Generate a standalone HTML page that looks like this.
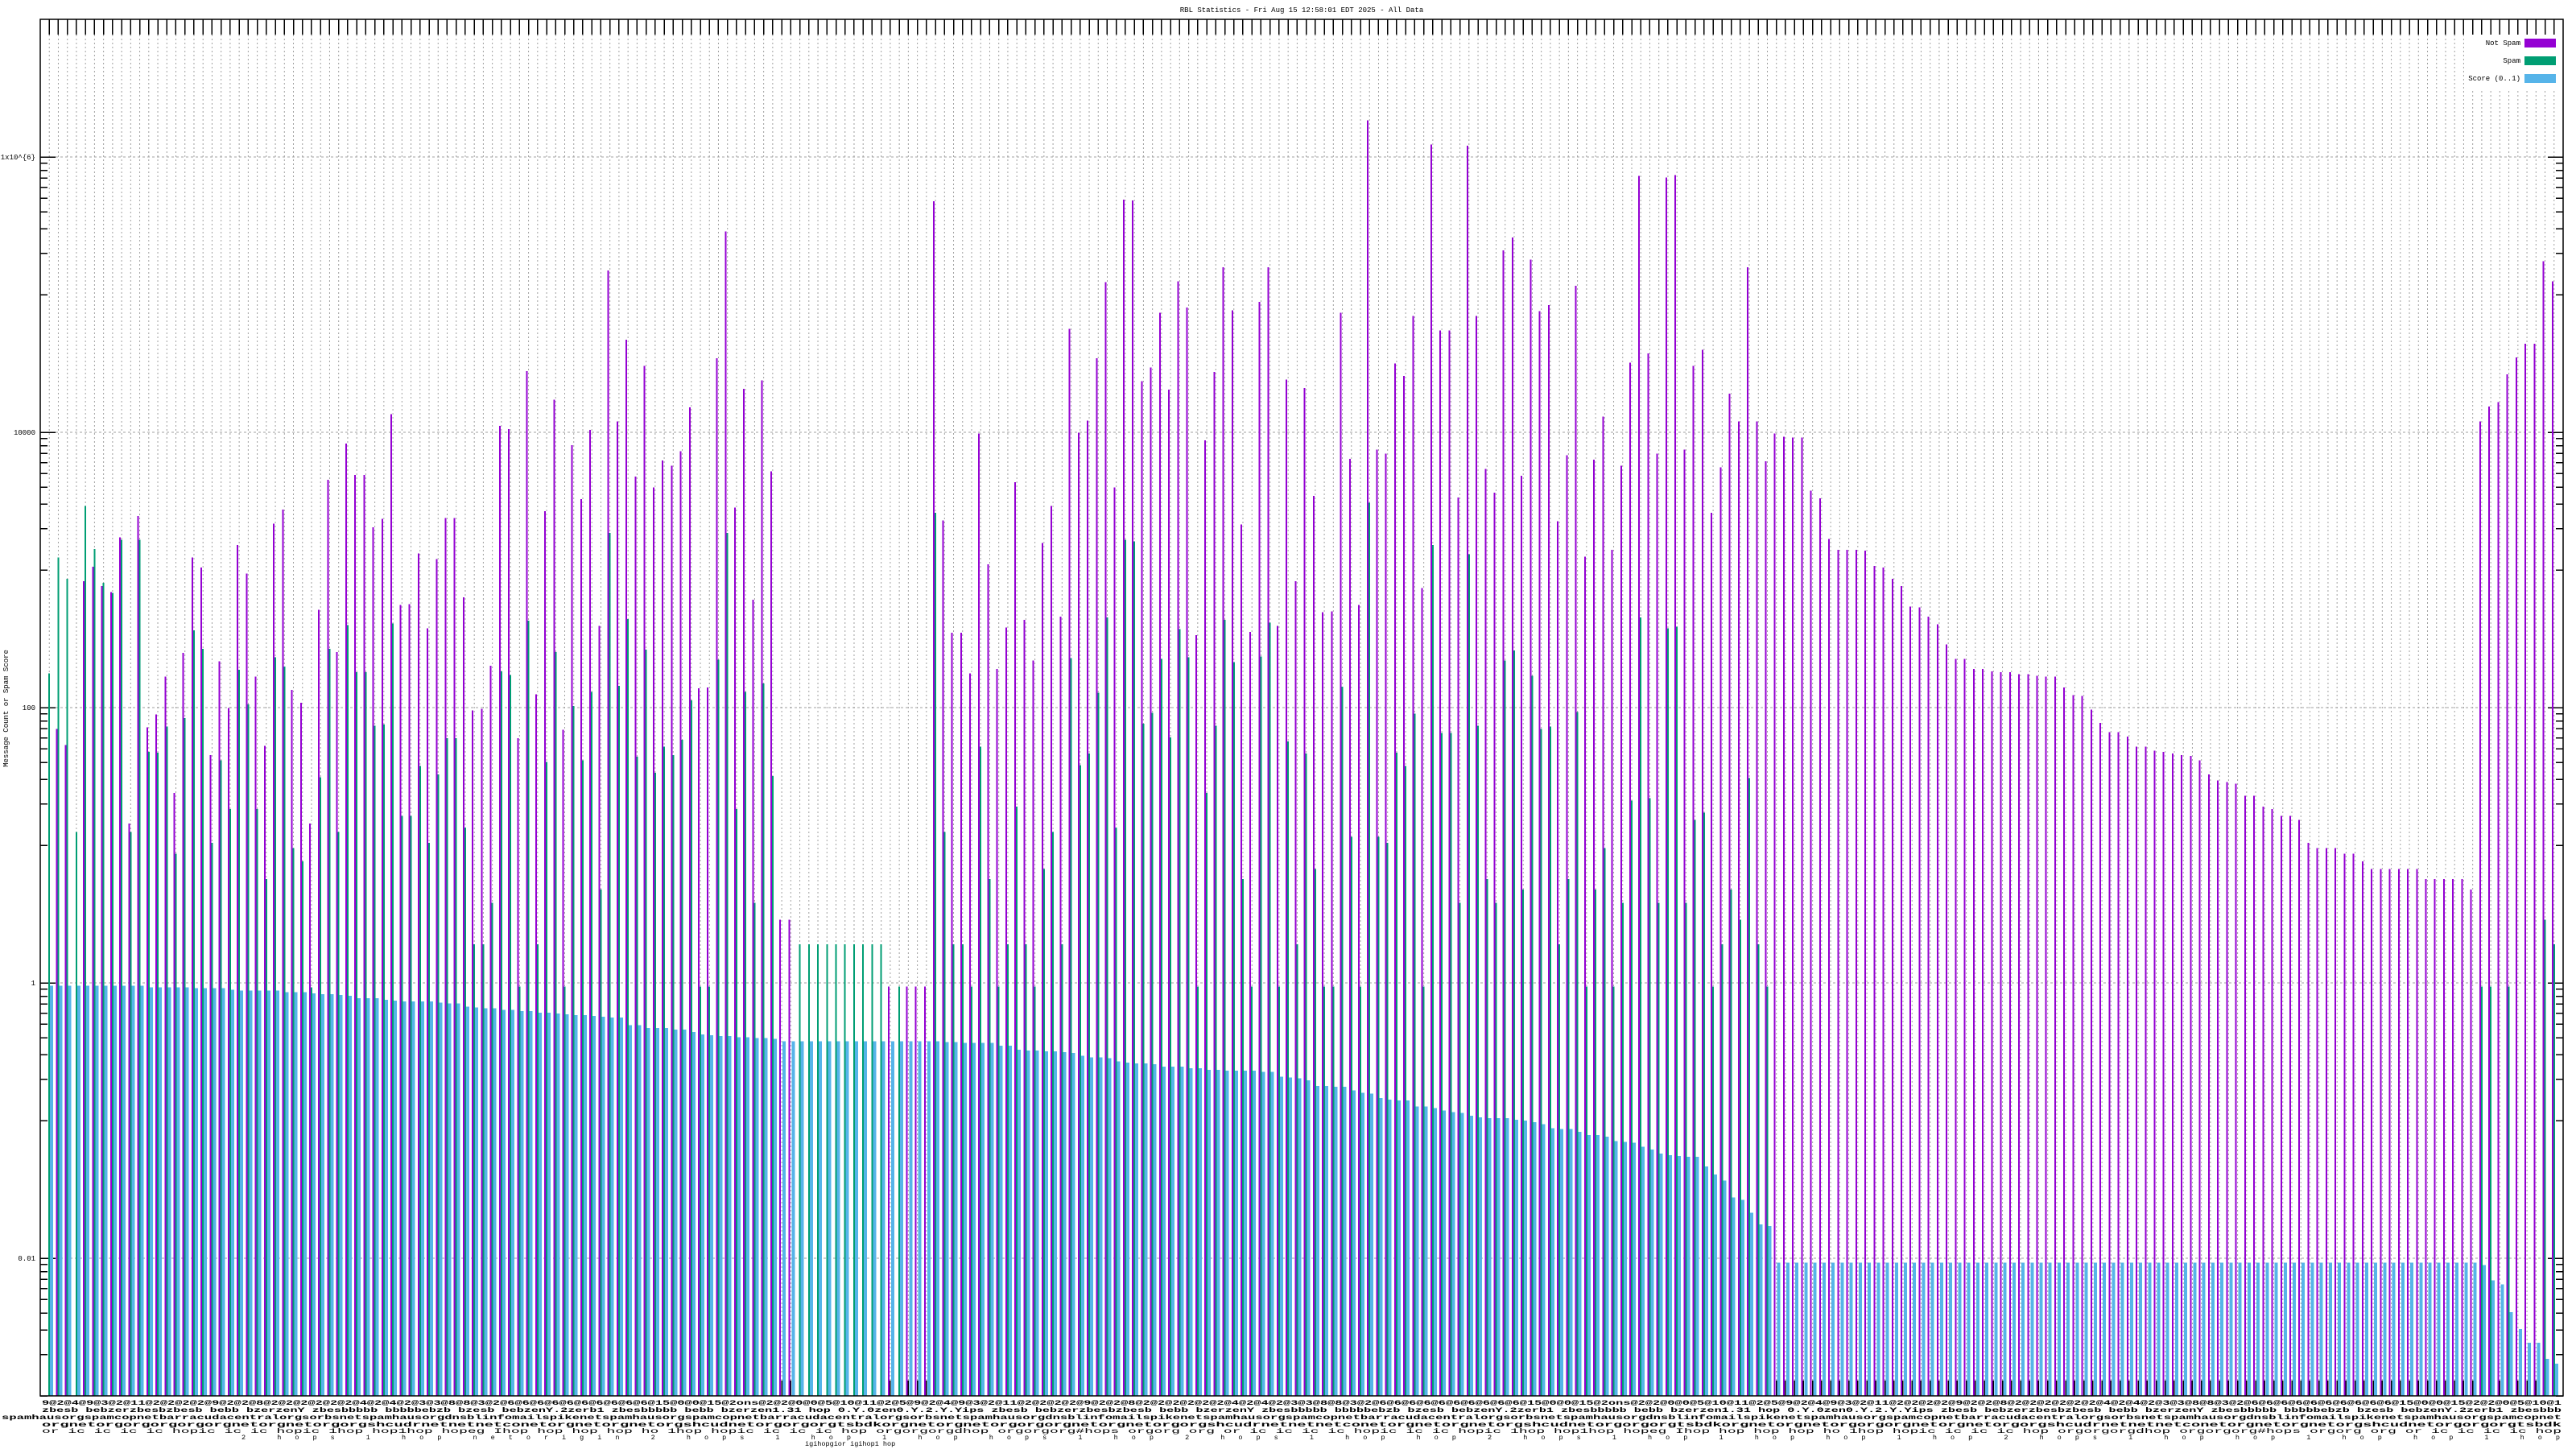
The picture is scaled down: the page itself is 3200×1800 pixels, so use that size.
<!DOCTYPE html>
<html><head><meta charset="utf-8"><style>
html,body{margin:0;padding:0;background:#fff;}
svg{display:block;}
text{font-family:"Liberation Mono","DejaVu Sans Mono",monospace;fill:#000;}
</style></head><body>
<svg id="s" width="3200" height="1800" viewBox="0 0 3200 1800" xmlns="http://www.w3.org/2000/svg">
<rect x="0" y="0" width="3200" height="1800" fill="#fff"/>
<g id="grid"></g>
<rect x="3062" y="40" width="120" height="70" fill="#fff"/>
<g id="ticks" stroke="#000" stroke-width="1.5" shape-rendering="crispEdges"></g>
<g id="bars" shape-rendering="crispEdges"></g>
<rect x="50" y="24" width="3134" height="1710" fill="none" stroke="#000" stroke-width="1.5"/>
<text x="1617" y="15" font-size="9" text-anchor="middle">RBL Statistics - Fri Aug 15 12:58:01 EDT 2025 - All Data</text>
<g font-size="9" text-anchor="end">
<text x="44" y="198">1x10^{6}</text>
<text x="44" y="540">10000</text>
<text x="44" y="882">100</text>
<text x="44" y="1224">1</text>
<text x="44" y="1566">0.01</text>
</g>
<text transform="translate(10,880) rotate(-90)" font-size="9" text-anchor="middle">Message Count or Spam Score</text>
<g font-size="9" text-anchor="end">
<text x="3131" y="56">Not Spam</text>
<text x="3131" y="78">Spam</text>
<text x="3131" y="100">Score (0..1)</text>
</g>
<rect x="3136" y="48" width="39" height="11" fill="#9400d3"/>
<rect x="3136" y="70" width="39" height="11" fill="#009e73"/>
<rect x="3136" y="92" width="39" height="11" fill="#56b4e9"/>
<g font-size="8.5" font-weight="bold">
<text x="52" y="1745" textLength="3130" lengthAdjust="spacingAndGlyphs">9@2@4@9@3@2@11@2@2@2@2@9@2@2@8@2@2@2@2@2@2@4@2@4@2@3@3@8@8@3@2@6@6@6@6@6@6@6@6@6@6@15@0@0@15@2ons@2@2@0@0@5@10@11@2@5@9@2@4@9@3@2@11@2@2@2@2@9@2@2@8@2@2@2@2@2@2@4@2@4@2@3@3@8@8@3@2@6@6@6@6@6@6@6@6@6@6@15@0@0@15@2ons@2@2@0@0@5@10@11@2@5@9@2@4@9@3@2@11@2@2@2@2@9@2@2@8@2@2@2@2@2@2@4@2@4@2@3@3@8@8@3@2@6@6@6@6@6@6@6@6@6@6@15@0@0@15@2@2@0@5@10@1</text>
<text x="52" y="1754" textLength="3130" lengthAdjust="spacingAndGlyphs">zbesb bebzerzbesbzbesb bebb bzerzenY zbesbbbbb bbbbbebzb bzesb bebzenY.2zerb1 zbesbbbbb bebb bzerzen1.31 hop 0.Y.0zen0.Y.2.Y.Yips zbesb bebzerzbesbzbesb bebb bzerzenY zbesbbbbb bbbbbebzb bzesb bebzenY.2zerb1 zbesbbbbb bebb bzerzen1.31 hop 0.Y.0zen0.Y.2.Y.Yips zbesb bebzerzbesbzbesb bebb bzerzenY zbesbbbbb bbbbbebzb bzesb bebzenY.2zerb1 zbesbbb</text>
<text x="2" y="1763" textLength="3180" lengthAdjust="spacingAndGlyphs">spamhausorgspamcopnetbarracudacentralorgsorbsnetspamhausorgdnsblinfomailspikenetspamhausorgspamcopnetbarracudacentralorgsorbsnetspamhausorgdnsblinfomailspikenetspamhausorgspamcopnetbarracudacentralorgsorbsnetspamhausorgdnsblinfomailspikenetspamhausorgspamcopnetbarracudacentralorgsorbsnetspamhausorgdnsblinfomailspikenetspamhausorgspamcopnet</text>
<text x="52" y="1772" textLength="3130" lengthAdjust="spacingAndGlyphs">orgnetorgorgorgorgorgnetorgnetorgorgshcudrnetnetnetconetorgnetorgnetorgshcudnetorgorgorgtsbdkorgnetorgnetorgorgorgnetorgnetorgorgshcudrnetnetnetconetorgnetorgnetorgshcudnetorgorgorgtsbdkorgnetorgnetorgorgorgnetorgnetorgorgshcudrnetnetnetconetorgnetorgnetorgshcudnetorgorgorgtsbdk</text>
</g>
<g font-size="8.5">
<text x="52" y="1780" textLength="3130" lengthAdjust="spacingAndGlyphs">or ic ic ic ic hopic ic ic hopic 1hop hop1hop hopeg Ihop hop hop hop ho 1hop hopic ic ic ic hop orgorgorgdhop orgorgorg#hops orgorg org or ic ic ic ic hopic ic ic hopic 1hop hop1hop hopeg Ihop hop hop hop ho 1hop hopic ic ic ic hop orgorgorgdhop orgorgorg#hops orgorg org or ic ic ic ic hop</text>
<text x="300" y="1788" textLength="2880" lengthAdjust="spacing">2 hops          1 hop     netorigin    2 hops    1 hop   1 hop   hops     1 hop    2 hops     1 hop     hop    2 hops     1 hop      1 hop    hop     1 hop    2 hops     1 hop    hop     1 hop    hop    1 hop</text>
<text x="1000" y="1796">igihopgior igihop1 hop</text>
</g>
</svg>
<script>
(function(){
var NS="http://www.w3.org/2000/svg";
function el(p,t,a){var e=document.createElementNS(NS,t);for(var k in a)e.setAttribute(k,a[k]);p.appendChild(e);return e;}
var z1=[[0,702,1072],[768,565,1072],[787,590,1072],[0,890,1072],[593,504,1072],[576,555,1072],[599,595,1072],[606,607,1072],[541,544,1072],[880,890,1072],[516,544,1072],[766,795,1074],[751,796,1074],[706,765,1074],[844,916,1074],[678,755,1074],[565,651,1075],[577,673,1075],[799,903,1075],[688,805,1075],[743,863,1077],[550,698,1078],[584,739,1078],[706,863,1078],[788,946,1078],[525,683,1078],[508,694,1080],[722,909,1080],[737,925,1080],[880,1074,1081],[627,825,1082],[473,673,1082],[677,890,1083],[430,645,1084],[467,701,1087],[467,701,1087],[529,764,1087],[519,763,1089],[395,643,1090],[621,871,1091],[620,871,1091],[560,812,1091],[649,903,1091],[567,822,1092],[518,779,1093],[518,779,1093],[612,885,1097],[746,1023,1098],[744,1023,1099],[693,974,1099],[409,700,1101],[413,704,1101],[779,1073,1102],[344,640,1102],[727,1023,1104],[510,807,1104],[378,677,1105],[769,1073,1106],[432,741,1107],[496,805,1107],[414,724,1108],[646,958,1109],[225,536,1110],[404,717,1110],[307,638,1119],[469,801,1119],[338,674,1122],[482,820,1122],[450,789,1122],[456,799,1124],[439,781,1124]];
var z2=[[387,734,1127],[720,1073,1130],[719,1073,1131],[329,686,1132],[179,536,1132],[506,863,1133],[365,724,1133],[615,974,1134],[355,714,1134],[463,824,1135],[994,0,1138],[994,0,1138]];
for(var i=0;i<10;i++)z2.push([0,1023,1138]);
z2=z2.concat([[1073,0,1138],[0,1073,1138],[1073,0,1138],[1073,0,1138],[1073,0,1138]]);
var p2=[143,521,654,654,702,418,573,697,648,476,639,687,548,504,635,294,417,403,329,239,482,141,142,356,340,275,366,238,269,657,426,345,221,272,526,653,262,221,646,354,593,364,492,630];
var g2=[512,890,1023,1023,1073,789,946,1073,1023,860,1023,1073,934,890,1023,684,811,797,725,636,885,544,546,762,749,685,778,650,683,1073,844,764,639,689,946,1073,682,642,1073,783,1023,797,934,1073];
var b2=[1138,1139,1139,1140,1140,1140,1140,1143,1143,1148,1149,1149,1150,1150,1151,1152,1155,1157,1157,1158,1162,1163,1164,1164,1165,1168,1168,1168,1170,1170,1172,1172,1173,1173,1173,1173,1174,1174,1180,1181,1182,1184,1191,1191];
for(i=0;i<p2.length;i++)z2.push([p2[i],g2[i],b2[i]]);
var z3=[[629,1073,1192],[275,718,1192],[448,896,1196],[621,1073,1199],[47,500,1200],[437,896,1205],[442,903,1207],[335,796,1208],[350,812,1208],[279,750,1215],[601,1073,1215],[76,550,1217],[296,773,1220],[296,773,1222],[494,974,1223],[77,561,1226],[279,764,1228],[460,946,1229],[488,974,1229],[201,687,1229],[186,675,1231],[468,958,1232],[212,705,1234],[273,768,1236],[266,765,1241],[522,1023,1242],[444,946,1242],[243,748,1245],[564,1073,1249],[449,958,1249],[398,909,1251],[556,1073,1256],[456,974,1257],[334,853,1258],[113,636,1263],[323,850,1266],[442,974,1271],[115,649,1273],[112,647,1274],[437,974,1275],[338,876,1275],[319,867,1286],[512,1073,1296],[458,1023,1303],[371,958,1323],[404,994,1326],[221,826,1341],[404,1023,1355],[451,1073,1357]];
var p3=[418,422,423,423,486,495,543,556,556,556,557,575,577,590,599,623,624,635,644,668,685,685];
for(i=0;i<p3.length;i++)z3.push([p3[i],0,1400]);
var p4=[697,697,700,701,701,703,703,705,706,706,719,728,729,745,761,772,772,777,789,789,794,795,797,799,800,805,822,829,831,833,847,847,860,863,871,871,876,903,909,909,909,916,916,925,934,934,934,934,934,934,946,946,946,946,946,958];
var z4=[];for(i=0;i<p4.length;i++)z4.push([p4[i],0,1400]);
z4=z4.concat([[404,1073,1403],[386,1073,1421],[381,0,1426],[348,1073,1459],[328,0,1479],[312,0,1495],[312,0,1495],[214,994,1514],[238,1023,1520]]);
var D=z1.concat(z2,z3,z4);
var N=D.length, L=50, R=3184, T=24, B=1734, sp=(R-L)/(N+1);
var grid=document.getElementById('grid'),bars=document.getElementById('bars'),tk=document.getElementById('ticks');
var dec=171;
function yl(lg){return T+(7-lg)*dec;}
for(i=0;i<N;i++){var c=L+sp*(i+1);
 el(grid,'line',{x1:c,y1:T+19,x2:c,y2:B-19,stroke:'#a0a0a0','stroke-width':1,'stroke-dasharray':'2,3'});
 el(tk,'line',{x1:c,y1:T,x2:c,y2:T+19});
 el(tk,'line',{x1:c,y1:B,x2:c,y2:B-19});
}
[6,4,2,0,-2].forEach(function(k){var y=yl(k);el(grid,'line',{x1:L+19,y1:y,x2:R-19,y2:y,stroke:'#a0a0a0','stroke-width':1,'stroke-dasharray':'3,3'});
 el(tk,'line',{x1:L,y1:y,x2:L+19,y2:y});el(tk,'line',{x1:R,y1:y,x2:R-19,y2:y});});
for(var k=-3;k<7;k+=2){for(var m=1;m<10;m++){var y=yl(k+Math.log10(m));if(y<T||y>B)continue;
 el(tk,'line',{x1:L,y1:y,x2:L+9,y2:y});el(tk,'line',{x1:R,y1:y,x2:R-9,y2:y});}}
var cols=['#9400d3','#009e73','#56b4e9'],off=[[-3,2],[-1,2],[1,4]];
for(i=0;i<N;i++){var c=L+sp*(i+1);
 for(var j=0;j<3;j++){var v=D[i][j];if(!v)continue;var top=100+v*1.0488;
  el(bars,'rect',{x:(c+off[j][0]).toFixed(1),y:top.toFixed(1),width:off[j][1],height:(B-top).toFixed(1),fill:cols[j]});}}
})();
</script>
</body></html>
